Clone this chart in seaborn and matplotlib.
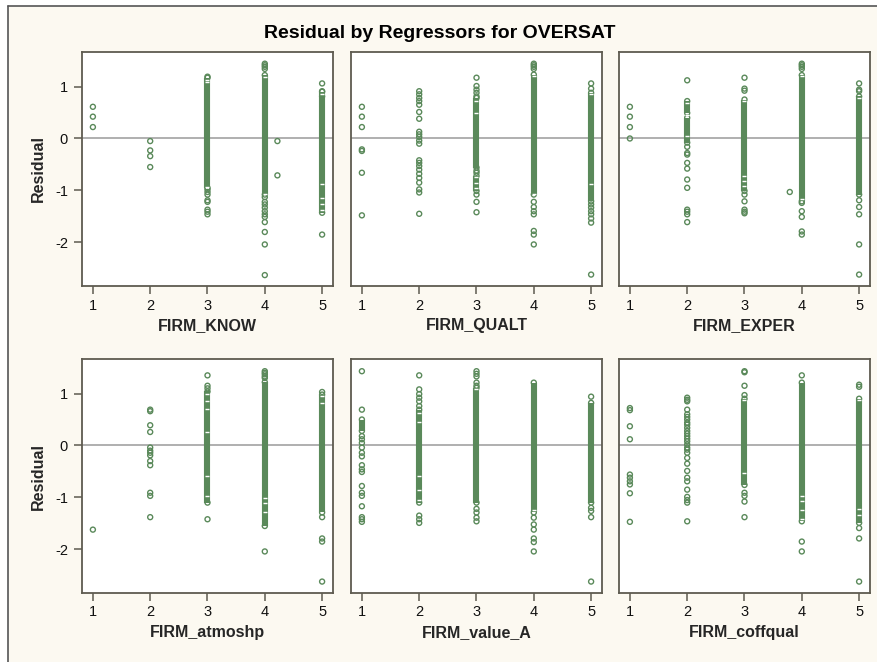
import numpy as np
import pandas as pd
import matplotlib
matplotlib.use("Agg")
import matplotlib.pyplot as plt
import seaborn as sns
from matplotlib.lines import Line2D
from matplotlib.patches import Rectangle

sns.set_theme(style="white")
plt.rcParams["font.family"] = ["Liberation Sans", "DejaVu Sans"]

TITLE = "Residual by Regressors for OVERSAT"
REGRESSORS = ["FIRM_KNOW", "FIRM_QUALT", "FIRM_EXPER",
              "FIRM_atmoshp", "FIRM_value_A", "FIRM_coffqual"]
XTICKS = [1, 2, 3, 4, 5]
YTICKS = [-2, -1, 0, 1]

# isolated residuals: (regressor value, [residuals])
KNOW_PTS = [(1, [0.61, 0.42, 0.22]),
            (2, [-0.05, -0.23, -0.34, -0.55]),
            (3, [1.19, -0.98, -1.03, -1.08, -1.19, -1.22, -1.37, -1.41, -1.46]),
            (4, [1.44, 1.41, 1.38, 1.34, -1.13, -1.22, -1.27, -1.33, -1.40, -1.46, -1.51, -1.61, -1.80, -2.04, -2.63]),
            (4.22, [-0.05, -0.71]),
            (5, [1.06, 0.91, 0.81, -1.85])]
QUALT_PTS = [(1, [0.61, 0.42, 0.22, -0.21, -0.24, -0.66, -1.48]),
             (2, [0.91, 0.85, 0.78, 0.72, 0.65, 0.51, 0.38, 0.13, 0.08, 0.03, -0.04, -0.10,
                  -0.42, -0.47, -0.53, -0.60, -0.68, -0.76, -0.85, -0.98, -1.04, -1.45]),
             (3, [1.17, 1.01, 0.94, 0.88, 0.81, -0.62, -0.66, -1.08, -1.22, -1.42]),
             (4, [1.44, 1.41, 1.38, 1.34, -1.22, -1.32, -1.40, -1.46, -1.78, -1.85, -2.04]),
             (5, [1.06, 0.96, -1.27, -1.33, -1.40, -1.46, -1.54, -1.62, -2.62])]
EXPER_PTS = [(1, [0.61, 0.42, 0.22, 0.0]),
             (2, [1.12, -0.16, -0.28, -0.31, -0.47, -0.58, -0.79, -0.95, -1.37, -1.41, -1.46, -1.61]),
             (3, [1.17, 0.96, 0.92, -1.08, -1.21, -1.37, -1.41, -1.44]),
             (3.79, [-1.03]),
             (4, [1.44, 1.41, 1.38, 1.34, -1.24, -1.40, -1.51, -1.79, -1.85]),
             (5, [1.06, 0.94, 0.91, -1.19, -1.32, -1.46, -2.04, -2.62])]
ATMOS_PTS = [(1, [-1.62]),
             (2, [0.69, 0.66, 0.39, 0.26, -0.04, -0.10, -0.14, -0.19, -0.30, -0.38, -0.91, -0.97, -1.38]),
             (3, [1.35, 1.15, 1.10, -1.42]),
             (4, [1.43, 1.40, 1.37, 1.33, 1.30, -2.04]),
             (5, [1.03, -1.38, -1.79, -1.85, -2.62])]
VALUE_PTS = [(1, [1.43, 0.69, 0.18, 0.12, 0.05, -0.04, -0.14, -0.21, -0.38, -0.46, -0.51,
                  -0.78, -0.91, -0.97, -1.17, -1.38, -1.42, -1.47]),
             (2, [1.35, 1.08, 0.99, 0.92, 0.85, 0.76, -1.35, -1.42, -1.49]),
             (3, [1.43, 1.38, 1.33, 1.21, 1.15, -1.22, -1.29, -1.39, -1.46]),
             (4, [-1.39, -1.52, -1.62, -1.79, -1.86, -2.04]),
             (5, [0.94, -1.20, -1.26, -1.38, -2.62])]
COFF_PTS = [(1, [0.72, 0.68, 0.37, 0.12, -0.56, -0.62, -0.69, -0.75, -0.92, -1.47]),
            (2, [0.92, 0.88, 0.85, 0.69, 0.60, 0.55, 0.50, 0.44, 0.40, 0.34, 0.28, 0.23, 0.18, 0.13,
                 0.08, 0.02, -0.04, -0.08, -0.14, -0.24, -0.35, -0.49, -0.62, -0.69, -0.85,
                 -0.99, -1.05, -1.10, -1.46]),
            (3, [1.43, 1.41, 1.15, 0.97, -0.91, -0.97, -1.08, -1.38]),
            (4, [1.35, -1.85, -2.04]),
            (5, [1.17, 1.13, -1.59, -1.79, -2.62])]

# densely packed residual runs: (regressor value, top residual, bottom residual)
KNOW_RUNS = [(3, 1.17, -0.95), (4, 1.22, -1.08), (5, 0.90, -1.43)]
QUALT_RUNS = [(3, 0.78, -0.56), (3, -0.72, -1.01), (4, 1.23, -1.08), (5, 0.88, -1.21)]
EXPER_RUNS = [(2, 0.72, 0.49), (2, 0.40, -0.08), (3, 0.75, -1.01), (4, 1.22, -1.21), (5, 0.81, -1.08)]
ATMOS_RUNS = [(3, 1.04, -1.10), (4, 1.22, -1.55), (5, 0.98, -1.29)]
VALUE_RUNS = [(1, 0.50, 0.28), (2, 0.69, -1.10), (3, 1.11, -1.10), (4, 1.21, -1.29), (5, 0.82, -1.10)]
COFF_RUNS = [(3, 0.90, -0.76), (4, 1.21, -1.46), (5, 0.90, -1.49)]

# small gaps visible inside the dense runs
KNOW_GAPS = [(3, [1.13, 1.08, -0.93]), (4, [1.18, -1.06]), (5, [0.86, -0.87, -1.14, -1.27, -1.38])]
QUALT_GAPS = [(3, [0.72, 0.50, -0.75, -0.85, -0.95]), (4, [1.20, -1.06]), (5, [0.85, -0.87])]
EXPER_GAPS = [(2, [0.68, 0.45, 0.05]), (3, [0.72, -0.72, -0.82, -0.92]), (4, [1.20, -1.17]), (5, [0.78])]
ATMOS_GAPS = [(3, [1.00, 0.85, 0.70, 0.25, -0.58, -0.98]), (4, [-1.02, -1.10, -1.28]), (5, [0.95, 0.82])]
VALUE_GAPS = [(2, [0.62, 0.45, -0.58, -0.85, -1.05]), (3, [1.08]), (4, [-1.25])]
COFF_GAPS = [(3, [0.88, -0.53]), (4, [-0.98, -1.06, -1.24, -1.42]), (5, [0.88, -1.22, -1.34])]

PANELS = [(KNOW_PTS, KNOW_RUNS, KNOW_GAPS), (QUALT_PTS, QUALT_RUNS, QUALT_GAPS),
          (EXPER_PTS, EXPER_RUNS, EXPER_GAPS), (ATMOS_PTS, ATMOS_RUNS, ATMOS_GAPS),
          (VALUE_PTS, VALUE_RUNS, VALUE_GAPS), (COFF_PTS, COFF_RUNS, COFF_GAPS)]

GREEN = "#5A895A"
CREAM = "#FCF9F1"
FRAME = "#5E5B50"
W, H = 878, 662

fig = plt.figure(figsize=(W / 100, H / 100), dpi=100)
fig.patch.set_facecolor("white")
fig.patches.append(Rectangle((8 / W, 0), 1, 1 - 6 / H, transform=fig.transFigure,
                             facecolor=CREAM, edgecolor="none", zorder=-10))
fig.add_artist(Line2D([8 / W, 8 / W], [0, 1 - 6 / H], color="#555555", lw=1.2))
fig.add_artist(Line2D([8 / W, 1], [1 - 6 / H, 1 - 6 / H], color="#555555", lw=1.2))

fig.text(440 / W, 1 - 33 / H, TITLE, ha="center", va="center",
         fontsize=14, fontweight="bold", color="black")

col_left = [82, 351, 619]
row_top = [52, 359]
pw, ph = 251, 234

for i, (pts, runs, gaps) in enumerate(PANELS):
    r, c = divmod(i, 3)
    ax = fig.add_axes([col_left[c] / W, 1 - (row_top[r] + ph) / H, pw / W, ph / H])
    ax.set_facecolor("white")

    pdf = pd.DataFrame([(x, y) for x, ys in pts for y in ys], columns=["x", "res"])
    rdf = pd.DataFrame([(x, y, k) for k, (x, top, bot) in enumerate(runs) for y in (top, bot)],
                       columns=["x", "res", "seg"])
    edf = rdf[["x", "res"]]
    gdf = pd.DataFrame([(x, y) for x, ys in gaps for y in ys], columns=["x", "res"])

    ax.axhline(0, color="#A9A9A9", lw=1.3, zorder=1)
    sns.lineplot(data=rdf, x="x", y="res", units="seg", estimator=None, sort=False,
                 color=GREEN, lw=4.4, solid_capstyle="butt", ax=ax, zorder=2)
    sns.scatterplot(data=pd.concat([pdf, edf]), x="x", y="res", marker="o", s=13,
                    fc="none", ec=GREEN, linewidth=1.0, ax=ax, zorder=3)
    if len(gdf):
        sns.scatterplot(data=gdf, x="x", y="res", marker="_", s=6, color="white",
                        linewidth=1.0, ax=ax, zorder=4)

    ax.set_xlim(0.81, 5.19)
    ax.set_ylim(-2.84, 1.665)
    ax.set_xticks(XTICKS)
    ax.set_xticklabels([str(t) for t in XTICKS])
    for s in ax.spines.values():
        s.set_color(FRAME)
        s.set_linewidth(1.3)
    ax.tick_params(axis="x", direction="out", length=6, width=1.1, color=FRAME,
                   labelsize=10.5, pad=3, labelcolor="#111111", bottom=True)
    ax.set_xlabel(REGRESSORS[i], fontsize=11.5, fontweight="bold", labelpad=4)
    if c == 0:
        ax.set_yticks(YTICKS)
        ax.set_yticklabels([str(t) for t in YTICKS])
        ax.tick_params(axis="y", direction="out", length=6, width=1.1, color=FRAME,
                       labelsize=10.5, pad=4, labelcolor="#111111", left=True)
        ax.set_ylabel("Residual", fontsize=11.5, fontweight="bold", labelpad=7)
    else:
        ax.set_yticks([])
        ax.set_ylabel("")
    ax.grid(False)

fig.savefig("out.png", dpi=100, facecolor=fig.get_facecolor())
